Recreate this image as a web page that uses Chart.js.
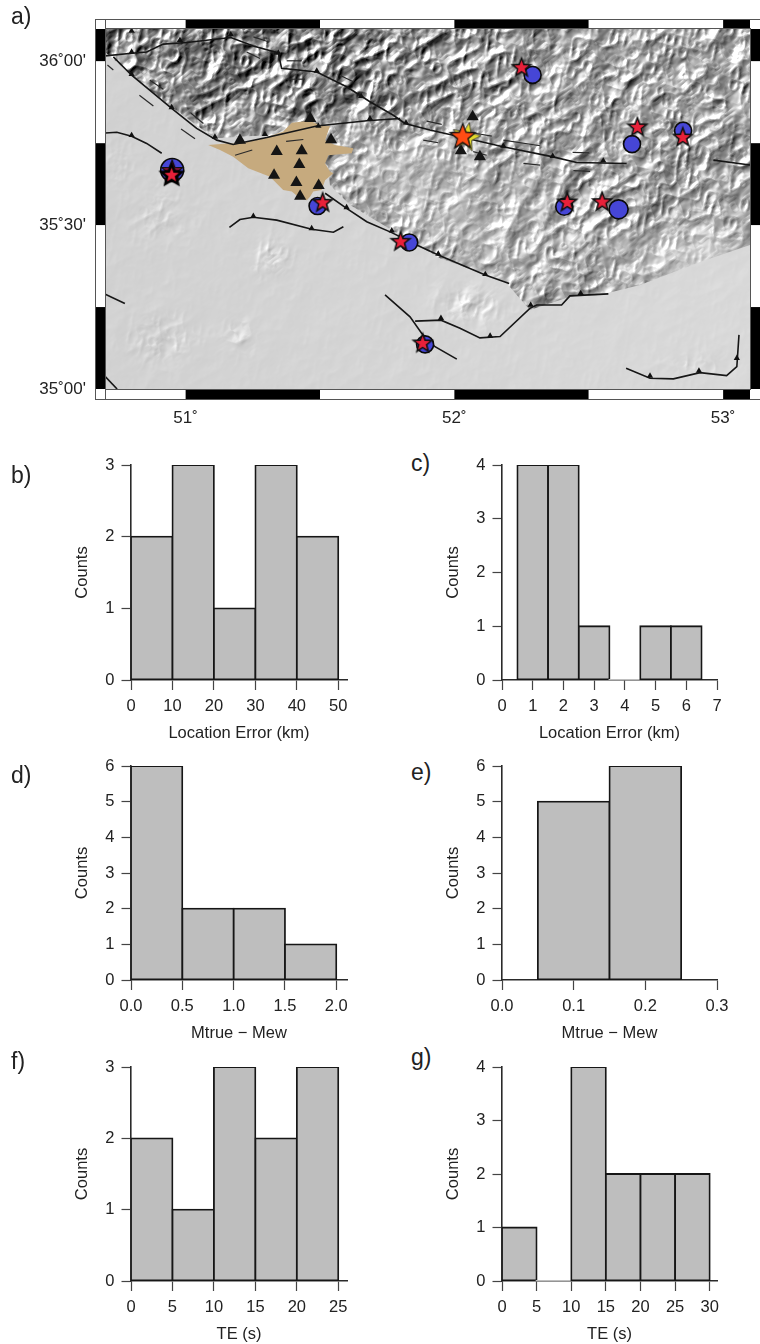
<!DOCTYPE html>
<html>
<head>
<meta charset="utf-8">
<title>Location and magnitude errors</title>
<script src="https://cdn.jsdelivr.net/npm/chart.js@4"></script>
<style>
  html, body { margin: 0; background: #fff; }
  #page { position: relative; width: 760px; height: 1344px; overflow: hidden; }
  #page canvas { position: absolute; }
  .tag { position: absolute; font: 23px "Liberation Sans", sans-serif; color: #222; }
</style>
</head>
<body>
<div id="page"></div>
<script>
// ---- map data, lon / lat
const lonTicks = [51, 52, 53];
const lonLabels = ["51˚", "52˚", "53˚"];
const latTicks = [35, 35.5, 36];
const latLabels = ["35˚00'", "35˚30'", "36˚00'"];
const frameLonBreaks = [50.7, 51, 51.5, 52, 52.5, 53, 53.1];
const frameLatBreaks = [35, 35.25, 35.5, 35.75, 36, 36.098];

const reliefZone = [[50.7,36.098],[53.1,36.098],[53.1,35.439],[52.914,35.387],[52.691,35.317],[52.542,35.287],[52.43,35.281],[52.281,35.241],[52.188,35.329],[51.947,35.399],[51.779,35.479],[51.612,35.561],[51.537,35.622],[51.53,35.68],[51.45,35.74],[51.295,35.774],[51.109,35.765],[50.942,35.863],[50.797,35.96],[50.7,36.028],[50.7,36.098]];
const basinOutline = [[51.084,35.744],[51.153,35.749],[51.202,35.749],[51.289,35.764],[51.363,35.785],[51.395,35.812],[51.463,35.818],[51.506,35.802],[51.537,35.802],[51.519,35.759],[51.556,35.744],[51.624,35.734],[51.618,35.719],[51.531,35.713],[51.519,35.688],[51.537,35.663],[51.55,35.658],[51.519,35.637],[51.506,35.607],[51.475,35.602],[51.463,35.586],[51.451,35.576],[51.426,35.581],[51.395,35.602],[51.363,35.607],[51.314,35.647],[51.233,35.673],[51.177,35.708],[51.128,35.729],[51.084,35.744]];

// lon, lat, lon radius, lat radius, tone shift, contrast shift
const reliefTones = [[51.3,36.06,0.75,0.24,-44,50],[52.05,35.5,0.3,0.2,22,-40],[52.95,35.38,0.35,0.12,36,-60],[51.75,35.68,0.2,0.1,22,-42]];
// lon, lat, lon radius, lat radius, contrast
const plainHills = [[50.905,35.156,0.1,0.06,24],[51.202,35.165,0.05,0.04,20],[51.321,35.4,0.06,0.05,28],[50.756,35.683,0.05,0.05,10],[50.905,35.53,0.09,0.07,14],[52.91,35.08,0.1,0.03,12],[52.058,35.256,0.1,0.05,30]];

const faults = [
  [[50.701,36.016],[50.799,36.024],[50.855,36.028],[50.917,36.052],[51.004,36.057],[51.168,36.072],[51.252,36.046],[51.345,36.025],[51.357,35.978],[51.488,35.967],[51.599,35.922],[51.686,35.876],[51.773,35.835],[51.816,35.81],[51.909,35.79],[52.028,35.768],[52.181,35.739],[52.367,35.708],[52.455,35.691],[52.641,35.688]],
  [[50.731,36.013],[50.799,35.957],[50.948,35.856],[51.041,35.795],[51.116,35.759],[51.177,35.746],[51.302,35.767],[51.488,35.802],[51.674,35.818],[51.798,35.825]],
  [[51.519,35.597],[51.599,35.551],[51.674,35.51],[51.767,35.477],[51.86,35.439],[51.94,35.409],[52.115,35.348],[52.204,35.322]],
  [[50.701,35.781],[50.744,35.783],[50.799,35.771],[50.855,35.749],[50.911,35.719]],
  [[51.163,35.493],[51.202,35.517],[51.252,35.524],[51.339,35.515],[51.469,35.487],[51.55,35.478],[51.587,35.495]],
  [[50.701,35.289],[50.774,35.261]],
  [[50.701,35.038],[50.745,35.0]],
  [[51.742,35.287],[51.835,35.22],[51.878,35.17],[51.928,35.129],[52.009,35.091]],
  [[51.854,35.207],[51.95,35.21],[52.021,35.185],[52.095,35.156],[52.17,35.16],[52.281,35.246],[52.306,35.256],[52.399,35.256],[52.43,35.284],[52.573,35.29]],
  [[52.639,35.063],[52.728,35.033],[52.815,35.031],[52.914,35.05],[53.013,35.041],[53.051,35.068],[53.059,35.165]],
  [[52.964,35.698],[53.1,35.683]]
];
const shortFaults = [
  [[50.828,35.896],[50.88,35.863]],[[50.983,35.793],[51.035,35.763]],[[51.184,35.713],[51.248,35.729]],
  [[51.374,35.755],[51.438,35.761]],[[51.019,35.842],[51.066,35.81]],[[50.709,35.988],[50.731,35.973]],
  [[50.867,35.942],[50.917,35.914]],[[51.227,36.028],[51.277,36.008]],[[51.376,36.001],[51.432,36.001]],
  [[51.378,35.945],[51.444,35.945]],[[51.574,35.957],[51.624,35.937]],[[51.252,36.074],[51.308,36.059]],
  [[51.897,35.817],[51.953,35.807]],[[51.884,35.759],[51.94,35.751]],[[52.07,35.724],[52.12,35.713]],
  [[52.257,35.688],[52.319,35.683]],[[52.44,35.722],[52.502,35.72]],[[52.443,35.666],[52.505,35.664]],
  [[52.077,35.78],[52.139,35.771]],[[52.182,35.759],[52.319,35.742]]
];
const faultTeeth = [[50.799,36.028],[50.979,36.064],[51.168,36.081],[51.345,36.025],[51.488,35.97],[51.653,35.893],[51.686,35.825],[51.494,35.802],[51.295,35.777],[51.109,35.769],[50.948,35.859],[50.799,35.96],[50.799,35.774],[51.252,35.527],[51.469,35.49],[51.599,35.554],[51.767,35.483],[51.82,35.812],[52.182,35.741],[52.366,35.71],[52.554,35.696],[51.94,35.412],[52.115,35.35],[52.47,35.292],[52.284,35.256],[52.133,35.162],[51.95,35.216],[52.728,35.04],[52.91,35.055],[53.051,35.094],[50.799,36.092]];
const stations = [[51.202,35.759],[51.339,35.724],[51.432,35.727],[51.423,35.685],[51.329,35.652],[51.412,35.63],[51.495,35.621],[51.426,35.588],[51.541,35.76],[51.464,35.825],[52.068,35.83],[52.024,35.727],[52.095,35.708]];
const catalogEvents = [[50.95,35.668],[51.491,35.558],[51.832,35.447],[51.891,35.136],[52.291,35.958],[52.661,35.747],[52.851,35.788],[52.409,35.556],[52.611,35.548]];
const relocatedEvents = [[50.948,35.652],[51.51,35.568],[51.8,35.449],[51.882,35.139],[52.25,35.98],[52.681,35.798],[52.85,35.767],[52.42,35.569],[52.55,35.57]];
const overlapEvent = [[50.95,35.665]];
const mainEvent = [[52.031,35.769]];
const mainEventGhost = [[52.044,35.768]];

// ---- histogram data
const bCentres = [5, 15, 25, 35, 45];
const bCounts = [2, 3, 1, 3, 2];
const bTicks = [0, 10, 20, 30, 40, 50];
const bTickLabels = ["0", "10", "20", "30", "40", "50"];

const cCentres = [1, 2, 3, 4, 5, 6];
const cCounts = [4, 4, 1, 0, 1, 1];
const cTicks = [0, 1, 2, 3, 4, 5, 6, 7];
const cTickLabels = ["0", "1", "2", "3", "4", "5", "6", "7"];

const dCentres = [0.25, 0.75, 1.25, 1.75];
const dCounts = [6, 2, 2, 1];
const dTicks = [0, 0.5, 1, 1.5, 2];
const dTickLabels = ["0.0", "0.5", "1.0", "1.5", "2.0"];

const eCentres = [0.1, 0.2];
const eCounts = [5, 6];
const eTicks = [0, 0.1, 0.2, 0.3];
const eTickLabels = ["0.0", "0.1", "0.2", "0.3"];

const fCentres = [2.5, 7.5, 12.5, 17.5, 22.5];
const fCounts = [2, 1, 3, 2, 3];
const fTicks = [0, 5, 10, 15, 20, 25];
const fTickLabels = ["0", "5", "10", "15", "20", "25"];

const gCentres = [2.5, 7.5, 12.5, 17.5, 22.5, 27.5];
const gCounts = [1, 0, 4, 2, 2, 2];
const gTicks = [0, 5, 10, 15, 20, 25, 30];
const gTickLabels = ["0", "5", "10", "15", "20", "25", "30"];

const FONT = '"Liberation Sans", Arial, sans-serif';
// the map canvas runs past the page edge so the right band can be cut off like the original
const MAP = { left: 105, top: 29, right: 750, bottom: 389, width: 775, height: 432, lonMin: 50.7, lonMax: 53.1, latMin: 35, latMax: 36.098 };
const page = document.getElementById('page');

function addCanvas(left, top, width, height) {
    const c = document.createElement('canvas');
    c.style.left = left + 'px';
    c.style.top = top + 'px';
    c.style.width = width + 'px';
    c.style.height = height + 'px';
    c.width = width;
    c.height = height;
    page.appendChild(c);
    return c;
}

function addTag(text, left, top) {
    const d = document.createElement('div');
    d.className = 'tag';
    d.textContent = text;
    d.style.left = left + 'px';
    d.style.top = top + 'px';
    page.appendChild(d);
}

// ---- hillshade look for the map background, a texture only and no chart data
function hash(ix, iy) {
    const s = Math.sin(ix * 127.1 + iy * 311.7) * 43758.5453;
    return s - Math.floor(s);
}

function smoothNoise(u, v) {
    const iu = Math.floor(u), iv = Math.floor(v);
    let fu = u - iu, fv = v - iv;
    fu = fu * fu * (3 - 2 * fu);
    fv = fv * fv * (3 - 2 * fv);
    const a = hash(iu, iv), b = hash(iu + 1, iv), c = hash(iu, iv + 1), d = hash(iu + 1, iv + 1);
    return a + (b - a) * fu + (c - a) * fv + (a - b - c + d) * fu * fv;
}

const octaves = [[30, 1.0, 0.5], [14, 0.65, 1.1], [7, 0.4, 0.2], [3.5, 0.16, 0.9]];

function buildHeights(w, h) {
    const out = new Float32Array(w * h);
    for (let y = 0; y < h; y++) {
        for (let x = 0; x < w; x++) {
            let v = 0;
            for (const [wl, amp, rot] of octaves) {
                const cs = Math.cos(rot), sn = Math.sin(rot);
                const n = smoothNoise((x * cs + y * sn) / wl, (y * cs - x * sn) / (wl * 1.5));
                v += amp * (1 - Math.abs(2 * n - 1));
            }
            out[y * w + x] = v;
        }
    }
    return out;
}

const heights = buildHeights(MAP.width, MAP.height);

function gauss(lon, lat, spot) {
    const a = (lon - spot[0]) / spot[2], b = (lat - spot[1]) / spot[3];
    return Math.exp(-(a * a + b * b));
}

// toneAt returns [base grey, contrast] for a lon / lat
function shadedPattern(toneAt) {
    const w = MAP.width, h = MAP.height;
    const raw = document.createElement('canvas');
    raw.width = w;
    raw.height = h;
    const g = raw.getContext('2d');
    const img = g.createImageData(w, h);
    for (let y = 1; y < h - 1; y++) {
        for (let x = 1; x < w - 1; x++) {
            const lon = MAP.lonMin + (x - MAP.left) / (MAP.right - MAP.left) * (MAP.lonMax - MAP.lonMin);
            const lat = MAP.latMin + (MAP.bottom - y) / (MAP.bottom - MAP.top) * (MAP.latMax - MAP.latMin);
            const i = y * w + x;
            const slope = (heights[i + w + 1] - heights[i - w - 1]) * 3;
            const t = toneAt(lon, lat);
            const v = t[0] + t[1] * (slope > 0 ? slope * 1.3 : slope * 0.9);
            const p = i * 4;
            img.data[p] = img.data[p + 1] = img.data[p + 2] = v;
            img.data[p + 3] = 255;
        }
    }
    g.putImageData(img, 0, 0);
    const soft = document.createElement('canvas');
    soft.width = w;
    soft.height = h;
    const sg = soft.getContext('2d');
    sg.filter = 'blur(0.5px)';
    sg.drawImage(raw, 0, 0);
    return sg.createPattern(soft, 'repeat');
}

const reliefPattern = shadedPattern((lon, lat) => {
    let base = 165, gain = 95;
    for (const s of reliefTones) {
        const k = gauss(lon, lat, s);
        base += s[4] * k;
        gain += s[5] * k;
    }
    return [base, gain];
});

const plainPattern = shadedPattern((lon, lat) => {
    let gain = 2.5;
    for (const s of plainHills) gain += s[4] * gauss(lon, lat, s);
    return [212 + (lon - 51.5) * 3, gain];
});

function starImage(radius, inner, fill, stroke, strokeW, turn) {
    const s = Math.ceil(radius * 2 + 4);
    const c = document.createElement('canvas');
    c.width = c.height = s;
    const g = c.getContext('2d');
    g.translate(s / 2, s / 2);
    g.rotate(turn || 0);
    g.beginPath();
    for (let i = 0; i < 10; i++) {
        const r = i % 2 ? inner : radius;
        const a = -Math.PI / 2 + i * Math.PI / 5;
        g.lineTo(Math.cos(a) * r, Math.sin(a) * r);
    }
    g.closePath();
    g.lineJoin = 'miter';
    g.fillStyle = fill;
    g.fill();
    if (strokeW) {
        g.lineWidth = strokeW;
        g.strokeStyle = stroke;
        g.stroke();
    }
    return c;
}

const toPoints = list => list.map(p => ({ x: p[0], y: p[1] }));

function zoneDataset(list, fillStyle, order) {
    return {
        type: 'scatter', data: toPoints(list), showLine: true, fill: 'shape',
        backgroundColor: fillStyle, borderWidth: 0, pointRadius: 0, order: order, tension: 0
    };
}

function lineDataset(list, color, width, order) {
    return {
        type: 'scatter', data: toPoints(list), showLine: true, fill: false,
        borderColor: color, borderWidth: width, pointRadius: 0, order: order, tension: 0
    };
}

function pointDataset(list, style, radius, fillColor, lineColor, lineWidth, order) {
    return {
        type: 'scatter', data: toPoints(list), showLine: false, pointStyle: style,
        pointRadius: radius, pointBackgroundColor: fillColor, pointBorderColor: lineColor,
        pointBorderWidth: lineWidth, order: order
    };
}

// GMT fancy frame around the map, black and white bands from the scales
const fancyFrame = {
    id: 'fancyFrame',
    afterDraw(chart) {
        const { ctx, chartArea: a, scales: { x, y } } = chart;
        const band = 10;
        ctx.save();
        ctx.lineWidth = 1;
        for (let i = 0; i < frameLonBreaks.length - 1; i++) {
            const x0 = x.getPixelForValue(frameLonBreaks[i]);
            const x1 = x.getPixelForValue(frameLonBreaks[i + 1]);
            // 51-51.5 black, 51.5-52 white and so on
            ctx.fillStyle = i % 2 === 1 ? '#000' : '#fff';
            ctx.fillRect(x0, a.top - band, x1 - x0, band);
            ctx.fillRect(x0, a.bottom, x1 - x0, band);
        }
        for (let i = 0; i < frameLatBreaks.length - 1; i++) {
            const y0 = y.getPixelForValue(frameLatBreaks[i]);
            const y1 = y.getPixelForValue(frameLatBreaks[i + 1]);
            ctx.fillStyle = i % 2 === 0 ? '#000' : '#fff';
            ctx.fillRect(a.left - band, y1, band, y0 - y1);
            ctx.fillRect(a.right, y1, band, y0 - y1);
        }
        ctx.strokeStyle = '#555';
        ctx.strokeRect(a.left + 0.5, a.top - 0.5, a.right - a.left, a.bottom - a.top + 1);
        ctx.strokeRect(a.left - band + 0.5, a.top - band + 0.5, a.right - a.left + 2 * band, a.bottom - a.top + 2 * band);
        ctx.beginPath();
        ctx.moveTo(a.left + 0.5, a.top - band);
        ctx.lineTo(a.left + 0.5, a.bottom + band);
        ctx.stroke();
        ctx.restore();
    }
};

const plainFill = {
    id: 'plainFill',
    beforeDatasetsDraw(chart) {
        const { ctx, chartArea: a } = chart;
        ctx.save();
        ctx.fillStyle = plainPattern;
        ctx.fillRect(a.left, a.top, a.right - a.left, a.bottom - a.top);
        ctx.restore();
    }
};

function drawMap() {
    const blackStar = starImage(12, 5, '#101010');
    const bigBlackStar = starImage(14, 6.5, '#000');
    const redStar = starImage(7.5, 3.2, '#e8213a');
    const overlapStar = starImage(11, 4.6, '#7a1030', '#111', 1.2);
    const blackRim = starImage(15, 6.4, '#111');
    const orangeStar = starImage(11.5, 4.8, '#ff4d14');
    const yellowStar = starImage(15, 6.4, '#e2d92c', '#333', 0.8, 0.22);

    const faultSets = faults.map(f => lineDataset(f, '#161616', 1.6, 6));
    const shortSets = shortFaults.map(f => lineDataset(f, '#2a2a2a', 1.2, 6));

    new Chart(addCanvas(0, 0, MAP.width, MAP.height), {
        type: 'scatter',
        data: {
            datasets: [
                zoneDataset(reliefZone, reliefPattern, 10),
                zoneDataset(basinOutline, '#c6aa7e', 7),
                ...faultSets,
                ...shortSets,
                pointDataset(faultTeeth, 'triangle', 3.6, '#111', '#111', 0, 5),
                pointDataset(stations, 'triangle', 7, '#151515', '#151515', 0, 4),
                Object.assign(pointDataset(catalogEvents, 'circle', 8.5, '#4646d6', '#0a0a0a', 1.6, 3), {
                    pointRadius: c => (c.dataIndex === 0 ? 11.5 : c.dataIndex === 8 ? 9.5 : 8.5)
                }),
                pointDataset(overlapEvent, overlapStar, 11, '#7a1030', '#111', 0, 2.5),
                pointDataset(relocatedEvents.slice(0, 1), bigBlackStar, 13, '#000', '#000', 0, 2),
                pointDataset(relocatedEvents.slice(1), blackStar, 11, '#000', '#000', 0, 2),
                pointDataset(relocatedEvents, redStar, 7, '#e8213a', '#e8213a', 0, 1),
                pointDataset(mainEventGhost, yellowStar, 14, '#e2d92c', '#333', 0, 1),
                pointDataset(mainEvent, blackRim, 14, '#111', '#111', 0, 0.5),
                pointDataset(mainEvent, orangeStar, 11, '#ff4d14', '#ff4d14', 0, 0)
            ]
        },
        options: {
            responsive: false,
            animation: false,
            layout: { padding: { top: MAP.top, right: MAP.width - MAP.right, left: 0, bottom: 0 } },
            plugins: { legend: { display: false }, tooltip: { enabled: false } },
            scales: {
                x: {
                    type: 'linear', min: MAP.lonMin, max: MAP.lonMax,
                    grid: { display: false }, border: { display: false },
                    afterBuildTicks: s => { s.ticks = lonTicks.map(v => ({ value: v })); },
                    afterFit: s => { s.height = MAP.height - MAP.bottom; },
                    ticks: {
                        padding: 11, autoSkip: false, maxRotation: 0, color: '#222',
                        font: { family: FONT, size: 17 },
                        callback: (v, i) => lonLabels[i]
                    }
                },
                y: {
                    type: 'linear', min: MAP.latMin, max: MAP.latMax,
                    grid: { display: false }, border: { display: false },
                    afterBuildTicks: s => { s.ticks = latTicks.map(v => ({ value: v })); },
                    afterFit: s => { s.width = MAP.left; },
                    ticks: {
                        padding: 11, autoSkip: false, color: '#222',
                        font: { family: FONT, size: 17 },
                        callback: (v, i) => latLabels[i]
                    }
                }
            }
        },
        plugins: [plainFill, fancyFrame]
    });
}

function drawHistogram(spec) {
    const box = { left: spec.left - 58, top: spec.top - 20, width: spec.right - spec.left + 82, height: spec.bottom - spec.top + 83 };
    new Chart(addCanvas(box.left, box.top, box.width, box.height), {
        type: 'bar',
        data: {
            datasets: [{
                data: spec.centres.map((c, i) => ({ x: c, y: spec.counts[i] })),
                backgroundColor: '#bebebe',
                borderColor: '#161616',
                borderWidth: c => (c.raw && c.raw.y ? 1.8 : 0),
                borderSkipped: false,
                inflateAmount: 0.9,
                barPercentage: 1,
                categoryPercentage: 1
            }]
        },
        options: {
            responsive: false,
            animation: false,
            layout: { padding: { top: 20, right: box.left + box.width - spec.right, left: 0, bottom: 0 } },
            plugins: { legend: { display: false }, tooltip: { enabled: false } },
            scales: {
                x: {
                    type: 'linear', min: 0, max: spec.xMax, offset: false,
                    grid: { offset: false, drawOnChartArea: false, drawTicks: true, tickLength: 10, tickColor: '#444', tickWidth: 1.2 },
                    border: { display: true, color: '#2a2a2a', width: 1.6 },
                    afterBuildTicks: s => { s.ticks = spec.ticks.map(v => ({ value: v })); },
                    afterFit: s => { s.height = box.top + box.height - spec.bottom; },
                    ticks: {
                        padding: 7, autoSkip: false, maxRotation: 0, color: '#222',
                        font: { family: FONT, size: 16.5 },
                        callback: (v, i) => spec.labels[i]
                    },
                    title: {
                        display: true, text: spec.xTitle, color: '#222', padding: { top: 7, bottom: 0 },
                        font: { family: FONT, size: 16.5 }
                    }
                },
                y: {
                    type: 'linear', min: 0, max: spec.yMax,
                    grid: { drawOnChartArea: false, drawTicks: true, tickLength: 9.5, tickColor: '#444', tickWidth: 1.2 },
                    border: { display: true, color: '#2a2a2a', width: 1.6 },
                    afterFit: s => { s.width = spec.left - box.left; },
                    ticks: {
                        stepSize: 1, padding: 7, color: '#222',
                        font: { family: FONT, size: 16.5 }
                    },
                    title: {
                        display: true, text: 'Counts', color: '#222', padding: { top: 0, bottom: 0 },
                        font: { family: FONT, size: 16.5 }
                    }
                }
            }
        }
    });
}

drawMap();

drawHistogram({ left: 131, right: 347, top: 465, bottom: 680, centres: bCentres, counts: bCounts, ticks: bTicks, labels: bTickLabels, xMax: 52.1, yMax: 3, xTitle: 'Location Error (km)' });
drawHistogram({ left: 502, right: 717, top: 465, bottom: 680, centres: cCentres, counts: cCounts, ticks: cTicks, labels: cTickLabels, xMax: 7, yMax: 4, xTitle: 'Location Error (km)' });
drawHistogram({ left: 131, right: 347, top: 766, bottom: 980, centres: dCentres, counts: dCounts, ticks: dTicks, labels: dTickLabels, xMax: 2.104, yMax: 6, xTitle: 'Mtrue − Mew' });
drawHistogram({ left: 502, right: 717, top: 766, bottom: 980, centres: eCentres, counts: eCounts, ticks: eTicks, labels: eTickLabels, xMax: 0.3, yMax: 6, xTitle: 'Mtrue − Mew' });
drawHistogram({ left: 131, right: 347, top: 1067, bottom: 1281, centres: fCentres, counts: fCounts, ticks: fTicks, labels: fTickLabels, xMax: 26.05, yMax: 3, xTitle: 'TE (s)' });
drawHistogram({ left: 502, right: 717, top: 1067, bottom: 1281, centres: gCentres, counts: gCounts, ticks: gTicks, labels: gTickLabels, xMax: 31.05, yMax: 4, xTitle: 'TE (s)' });

addTag('a)', 11, 3);
addTag('b)', 11, 462);
addTag('c)', 411, 450);
addTag('d)', 11, 762);
addTag('e)', 411, 759);
addTag('f)', 11, 1048);
addTag('g)', 411, 1044);
</script>
</body>
</html>
